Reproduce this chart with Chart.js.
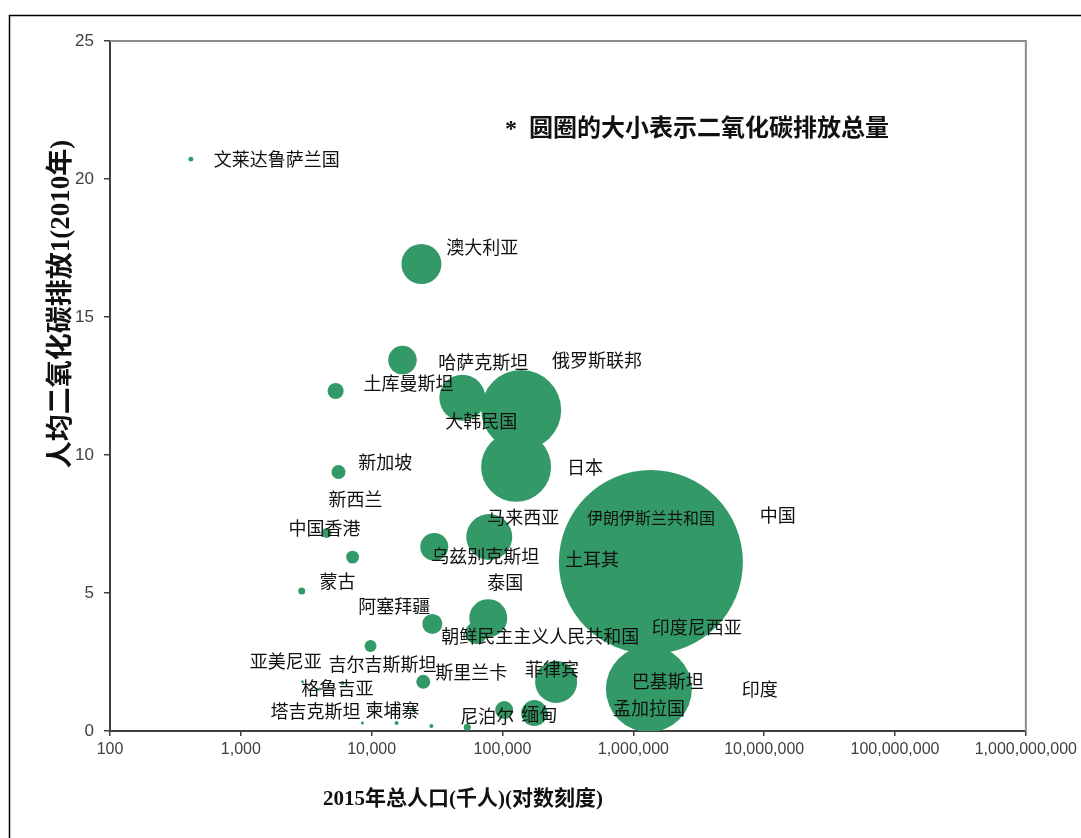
<!DOCTYPE html>
<html>
<head>
<meta charset="utf-8">
<script src="https://cdn.jsdelivr.net/npm/chart.js@4.4.0/dist/chart.umd.min.js"></script>
<style>
html, body { margin: 0; padding: 0; background: #fff; }
#wrap { width: 1081px; height: 838px; position: relative; }
</style>
</head>
<body>
<div id="wrap"><canvas id="chart" width="1081" height="838"></canvas></div>
<script>
// bubbles: 2015 population (thousand), per-capita CO2 (t, 2010), total CO2 (Mt)
const population = [415, 24000, 17200, 5300, 49300, 139000, 127000, 5580, 4520, 7150,
    2920, 30100, 79200, 1362000, 29100, 77800, 63000, 9800, 24800, 257000,
    1315000, 103000, 175000, 53800, 28600, 15500, 8500, 21200, 2960, 5980, 4000];
const co2PerCapita = [20.72, 16.92, 13.44, 12.32, 12.07, 11.63, 9.57, 9.38, 7.17, 6.30,
    5.07, 6.67, 7.03, 6.12, 3.88, 4.09, 3.55, 3.08, 1.78, 1.78,
    1.52, 0.76, 0.65, 0.14, 0.18, 0.29, 0.29, 0.76, 1.78, 1.74, 1.52];
const co2Total = [6, 392, 200, 63, 518, 1566, 1199, 48, 24, 41,
    12, 192, 518, 8287, 98, 353, 118, 35, 48, 432,
    1810, 79, 165, 12, 4, 4, 2.2, 4, 2.2, 4, 2.2];

// data labels, anchored in data units
const labelText = ['文莱达鲁萨兰国', '澳大利亚', '哈萨克斯坦', '俄罗斯联邦', '土库曼斯坦', '大韩民国',
    '新加坡', '日本', '新西兰', '马来西亚', '中国香港', '伊朗伊斯兰共和国', '中国', '乌兹别克斯坦',
    '土耳其', '蒙古', '泰国', '阿塞拜疆', '朝鲜民主主义人民共和国', '印度尼西亚', '亚美尼亚',
    '吉尔吉斯斯坦', '斯里兰卡', '菲律宾', '巴基斯坦', '印度', '格鲁吉亚', '塔吉克斯坦', '柬埔寨',
    '孟加拉国', '尼泊尔', '缅甸'];
const labelX = [1880, 70000, 71300, 527000, 19100, 68900, 12700, 428000, 7520, 144000,
    4360, 1362000, 12680000, 73800, 483000, 5480, 105000, 14900, 194000, 3055000,
    2200, 12100, 57700, 239000, 1836000, 9250000, 5480, 3720, 14400, 1315000, 76400, 191000];
const labelY = [20.72, 17.54, 13.37, 13.44, 12.61, 11.23, 9.75, 9.57, 8.41, 7.75,
    7.36, 7.72, 7.83, 6.34, 6.23, 5.43, 5.40, 4.53, 3.44, 3.77,
    2.54, 2.43, 2.14, 2.25, 1.81, 1.52, 1.56, 0.72, 0.76, 0.83, 0.54, 0.62];

const xTicks = [100, 1000, 10000, 100000, 1000000, 10000000, 100000000, 1000000000];
const yTicks = [0, 5, 10, 15, 20, 25];

const noteText = '*  圆圈的大小表示二氧化碳排放总量';
const xTitle = '2015年总人口(千人)(对数刻度)';
const yTitle = '人均二氧化碳排放1(2010年)';

const GREEN = '#339966';
const maxCo2 = Math.max(...co2Total);
const sizeFor = v => 92 * Math.sqrt(v / maxCo2);   // bubble area ~ total emissions

const points = population.map((p, i) => ({ x: p, y: co2PerCapita[i], r: sizeFor(co2Total[i]) }));

const decorPlugin = {
    id: 'decor',
    beforeDraw(chart) {
        const ctx = chart.ctx;
        ctx.save();
        ctx.strokeStyle = '#000';
        ctx.lineWidth = 1.5;
        ctx.strokeRect(9.5, 15.5, 1200, 900);
        ctx.restore();
    },
    afterDatasetsDraw(chart) {
        const { ctx, scales: { x, y } } = chart;
        ctx.save();
        ctx.fillStyle = '#111';
        ctx.textAlign = 'center';
        ctx.textBaseline = 'middle';
        labelText.forEach((t, i) => {
            ctx.font = (t === '伊朗伊斯兰共和国' ? '16px' : '18px') + " 'Noto Sans CJK SC', sans-serif";
            ctx.fillText(t, x.getPixelForValue(labelX[i]), y.getPixelForValue(labelY[i]));
        });
        ctx.restore();
    },
    afterDraw(chart) {
        const { ctx, chartArea: a } = chart;
        ctx.save();
        // top and right frame of the plot area
        ctx.strokeStyle = '#8c8c8c';
        ctx.lineWidth = 2;
        ctx.beginPath();
        ctx.moveTo(a.left, a.top); ctx.lineTo(a.right, a.top); ctx.lineTo(a.right, a.bottom);
        ctx.stroke();

        ctx.fillStyle = '#111';
        ctx.textBaseline = 'middle';
        ctx.textAlign = 'left';
        ctx.font = "bold 24px 'Liberation Serif', 'Noto Sans CJK SC', serif";
        ctx.fillText(noteText, 505, 130);

        ctx.textAlign = 'center';
        ctx.font = "bold 21px 'Liberation Serif', 'Noto Sans CJK SC', serif";
        ctx.fillText(xTitle, 463, 800);

        ctx.translate(62, 304);
        ctx.rotate(-Math.PI / 2);
        ctx.font = "bold 27px 'Liberation Serif', 'Noto Sans CJK SC', serif";
        ctx.fillText(yTitle, 0, 0);
        ctx.restore();
    }
};

new Chart(document.getElementById('chart').getContext('2d'), {
    type: 'bubble',
    data: {
        datasets: [{
            data: points,
            backgroundColor: GREEN,
            borderWidth: 0,
            hoverRadius: 0
        }]
    },
    options: {
        responsive: false,
        animation: false,
        events: [],
        layout: { autoPadding: false, padding: { left: 0, top: 41, right: 53, bottom: 0 } },
        plugins: { legend: { display: false }, tooltip: { enabled: false } },
        scales: {
            x: {
                type: 'logarithmic',
                min: 100,
                max: 1000000000,
                afterBuildTicks: s => { s.ticks = xTicks.map(v => ({ value: v })); },
                afterFit: s => { s.height = 107; },
                border: { color: '#404040', width: 2 },
                grid: { drawOnChartArea: false, drawTicks: true, tickLength: 5, color: '#404040', lineWidth: 1.5 },
                ticks: {
                    autoSkip: false, maxRotation: 0, padding: 4,
                    color: '#404040',
                    font: { family: "'Liberation Sans', Arial, sans-serif", size: 16 },
                    callback: v => Number(v).toLocaleString('en-US')
                }
            },
            y: {
                min: 0,
                max: 25,
                afterBuildTicks: s => { s.ticks = yTicks.map(v => ({ value: v })); },
                afterFit: s => { s.width = 110; },
                border: { color: '#404040', width: 2 },
                grid: { drawOnChartArea: false, drawTicks: true, tickLength: 6, color: '#404040', lineWidth: 1.5 },
                ticks: {
                    padding: 10,
                    color: '#404040',
                    font: { family: "'Liberation Sans', Arial, sans-serif", size: 17 }
                }
            }
        }
    },
    plugins: [decorPlugin]
});
</script>
</body>
</html>
